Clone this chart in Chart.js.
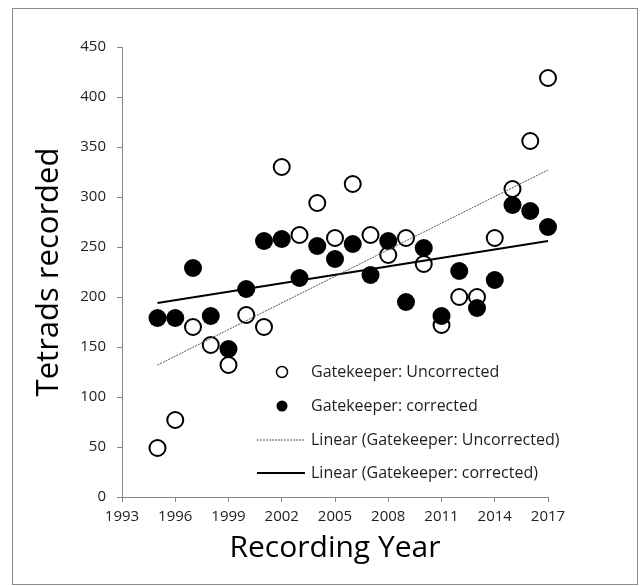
<!DOCTYPE html>
<html>
<head>
<meta charset="utf-8">
<script src="https://cdn.jsdelivr.net/npm/chart.js@4.4.1/dist/chart.umd.min.js"></script>
<style>
  html, body { margin: 0; padding: 0; background: #fff; }
  #wrap { position: relative; width: 643px; height: 586px; }
  #frame { position: absolute; left: 12px; top: 8px; width: 624px; height: 575px;
           border: 1px solid #8c8c8c; pointer-events: none; }
</style>
</head>
<body>
<div id="wrap">
  <canvas id="gatekeeperChart" width="643" height="586"></canvas>
  <div id="frame"></div>
</div>
<script>
// Gatekeeper tetrad counts by recording year
const years = [1995, 1996, 1997, 1998, 1999, 2000, 2001, 2002, 2003, 2004, 2005, 2006,
               2007, 2008, 2009, 2010, 2011, 2012, 2013, 2014, 2015, 2016, 2017];
const uncorrected = [49, 77, 170, 152, 132, 182, 170, 330, 262, 294, 259, 313,
                     262, 242, 259, 233, 172, 200, 200, 259, 308, 356, 419];
const corrected = [179, 179, 229, 181, 148, 208, 256, 258, 219, 251, 238, 253,
                   222, 256, 195, 249, 181, 226, 189, 217, 292, 286, 270];

// trendline end points
const trendYears = [1995, 2017];
const trendUncorrected = [132, 327];
const trendCorrected = [194, 256];

const legendLabels = [
    'Gatekeeper: Uncorrected',
    'Gatekeeper: corrected',
    'Linear (Gatekeeper: Uncorrected)',
    'Linear (Gatekeeper: corrected)'
];

const FONT = "'Open Sans', 'Noto Sans', sans-serif";
const AXIS_GREY = '#868686';

const toPoints = (xs, ys) => xs.map((x, i) => ({ x: x, y: ys[i] }));

// legend drawn inside the plot area, like the Excel original
const insideLegend = {
    id: 'insideLegend',
    afterDraw(chart) {
        const ctx = chart.ctx;
        const xs = chart.scales.x;
        const ys = chart.scales.y;
        const left = xs.left + 135;
        const rowY = [ys.getPixelForValue(125), ys.getPixelForValue(91),
                      ys.getPixelForValue(57), ys.getPixelForValue(24)];
        ctx.save();
        ctx.font = '16px ' + FONT;
        ctx.textBaseline = 'middle';
        rowY.forEach((y, i) => {
            ctx.beginPath();
            if (i === 0 || i === 1) {
                ctx.arc(left + 25, y, 5.5, 0, Math.PI * 2);
                if (i === 0) {
                    ctx.fillStyle = '#fff';
                    ctx.fill();
                    ctx.lineWidth = 1.5;
                    ctx.strokeStyle = '#000';
                    ctx.stroke();
                } else {
                    ctx.fillStyle = '#000';
                    ctx.fill();
                }
            } else {
                ctx.moveTo(left, y);
                ctx.lineTo(left + 48, y);
                ctx.strokeStyle = i === 2 ? '#555' : '#000';
                ctx.lineWidth = i === 2 ? 1 : 2;
                ctx.setLineDash(i === 2 ? [2, 1] : []);
                ctx.stroke();
                ctx.setLineDash([]);
            }
            ctx.fillStyle = '#1e1e1e';
            ctx.fillText(legendLabels[i], left + 54, y);
        });
        ctx.restore();
    }
};

const config = {
    type: 'scatter',
    data: {
        datasets: [
            {
                label: legendLabels[2],
                type: 'line',
                data: toPoints(trendYears, trendUncorrected),
                borderColor: '#555',
                borderWidth: 1,
                borderDash: [2, 1],
                pointRadius: 0,
                fill: false,
                clip: false,
                order: 0
            },
            {
                label: legendLabels[3],
                type: 'line',
                data: toPoints(trendYears, trendCorrected),
                borderColor: '#000',
                borderWidth: 2,
                pointRadius: 0,
                fill: false,
                clip: false,
                order: 0
            },
            {
                label: legendLabels[1],
                data: toPoints(years, corrected),
                pointRadius: 9,
                pointBorderWidth: 0,
                pointBackgroundColor: '#000',
                pointBorderColor: '#000',
                clip: false,
                order: 1
            },
            {
                label: legendLabels[0],
                data: toPoints(years, uncorrected),
                pointRadius: 8,
                pointBorderWidth: 2,
                pointBackgroundColor: '#fff',
                pointBorderColor: '#000',
                clip: false,
                order: 2
            }
        ]
    },
    options: {
        responsive: false,
        animation: false,
        layout: { padding: { left: 0, top: 47, right: 95, bottom: 0 } },
        plugins: {
            legend: { display: false },
            tooltip: { enabled: false }
        },
        scales: {
            x: {
                type: 'linear',
                min: 1993,
                max: 2017,
                afterFit: (scale) => { scale.height = 89; },
                ticks: {
                    stepSize: 3,
                    padding: 6,
                    color: '#222',
                    font: { family: FONT, size: 15 },
                    callback: (v) => String(v)
                },
                grid: { drawOnChartArea: false, tickLength: 5, color: AXIS_GREY },
                border: { color: AXIS_GREY },
                title: {
                    display: true,
                    text: 'Recording Year',
                    color: '#000',
                    font: { family: FONT, size: 30 },
                    padding: { top: 0, bottom: 20 }
                }
            },
            y: {
                min: 0,
                max: 450,
                afterFit: (scale) => { scale.width = 122; },
                ticks: {
                    stepSize: 50,
                    padding: 11,
                    color: '#222',
                    font: { family: FONT, size: 15 }
                },
                grid: { drawOnChartArea: false, tickLength: 5, color: AXIS_GREY },
                border: { color: AXIS_GREY },
                title: {
                    display: true,
                    text: 'Tetrads recorded',
                    color: '#000',
                    font: { family: FONT, size: 31 },
                    padding: { top: 31, bottom: 0 }
                }
            }
        }
    },
    plugins: [insideLegend]
};

new Chart(document.getElementById('gatekeeperChart'), config);
</script>
</body>
</html>
